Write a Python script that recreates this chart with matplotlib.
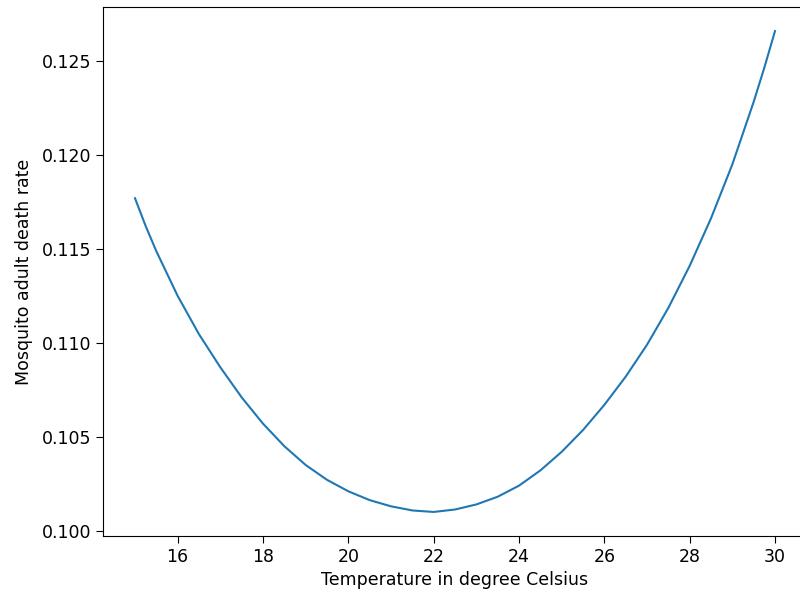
import matplotlib
matplotlib.use("Agg")
import matplotlib.pyplot as plt

# temperatures (degree Celsius) and death rate
temperature = [15.0, 15.25, 15.5, 16.0, 16.5, 17.0, 17.5, 18.0, 18.5, 19.0,
               19.5, 20.0, 20.5, 21.0, 21.5, 22.0, 22.5, 23.0, 23.5, 24.0,
               24.5, 25.0, 25.5, 26.0, 26.5, 27.0, 27.5, 28.0, 28.5, 29.0,
               29.5, 29.75, 30.0]
death_rate = [0.11770, 0.11622, 0.11488, 0.11250, 0.11046, 0.10870, 0.10710,
              0.10570, 0.10450, 0.10350, 0.10271, 0.10210, 0.10163, 0.10130,
              0.10108, 0.10100, 0.10113, 0.10140, 0.10181, 0.10240, 0.10321,
              0.10420, 0.10536, 0.10670, 0.10820, 0.10990, 0.11186, 0.11410,
              0.11663, 0.11950, 0.12283, 0.12465, 0.12660]

plt.rcParams['font.size'] = 12.5

fig = plt.figure(figsize=(8, 5.97), dpi=100)
# axes runs slightly past the right edge, like the cropped original
ax = fig.add_axes([103 / 800, 1 - 536 / 597, 704 / 800, 529 / 597])
ax.plot(temperature, death_rate, color='#1f77b4', linewidth=1.5)
ax.set_xlabel('Temperature in degree Celsius')
ax.set_ylabel('Mosquito adult death rate', labelpad=6)
ax.set_yticks([0.100, 0.105, 0.110, 0.115, 0.120, 0.125])
ax.set_xticks([16, 18, 20, 22, 24, 26, 28, 30])
ax.tick_params(length=5)

fig.savefig('out.png', dpi=100)
